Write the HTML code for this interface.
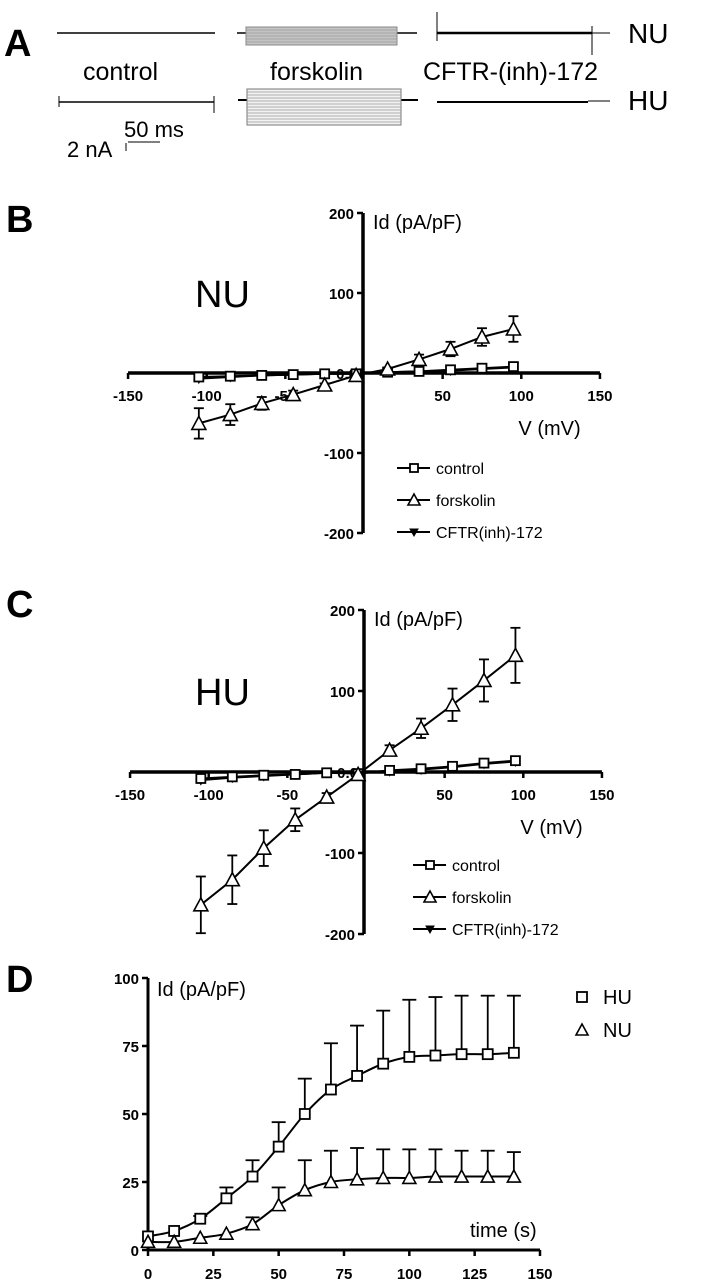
<!DOCTYPE html>
<html><head><meta charset="utf-8"><style>
html,body{margin:0;padding:0;background:#fff;}
svg{display:block;font-family:"Liberation Sans",Arial,sans-serif;}
.tick{font-size:15px;font-weight:bold;}
.lab{font-size:20px;}
.panel{font-size:38px;font-weight:bold;}
</style></head><body>
<svg id="fig" width="706" height="1285" viewBox="0 0 706 1285">
<g stroke="#000" fill="none">
  <line x1="57" y1="33" x2="215" y2="33" stroke-width="1.5"/>
  <line x1="237" y1="33" x2="417" y2="33" stroke-width="1.5"/>
  <rect x="246" y="27" width="151" height="18" fill="#c4c4c4" stroke="#888" stroke-width="1"/>
  <line x1="437" y1="33" x2="592" y2="33" stroke-width="2.5"/>
  <line x1="592" y1="33" x2="610" y2="33" stroke-width="1"/>
  <line x1="437" y1="12" x2="437" y2="41" stroke-width="1"/>
  <line x1="592" y1="26" x2="592" y2="55" stroke-width="1"/>
  <line x1="59" y1="102" x2="214" y2="102" stroke-width="1.5"/>
  <line x1="59" y1="96" x2="59" y2="107" stroke-width="1"/>
  <line x1="214" y1="96" x2="214" y2="113" stroke-width="1"/>
  <line x1="238" y1="100" x2="418" y2="100" stroke-width="2"/>
  <rect x="247" y="89" width="154" height="36" fill="#f2f2f2" stroke="#777" stroke-width="1"/>
  <g id="stripes" stroke="#999" stroke-width="0.8"></g>
  <line x1="437" y1="102" x2="588" y2="102" stroke-width="2"/>
  <line x1="588" y1="101" x2="610" y2="101" stroke-width="1"/>
  <line x1="126" y1="143" x2="126" y2="151" stroke-width="1"/>
  <line x1="128" y1="142" x2="160" y2="142" stroke-width="1"/>
</g>
<text x="4" y="56" class="panel">A</text>
<text x="628" y="43" font-size="28">NU</text>
<text x="628" y="110" font-size="28">HU</text>
<text x="83" y="80" font-size="25">control</text>
<text x="270" y="80" font-size="25">forskolin</text>
<text x="423" y="80" font-size="25">CFTR-(inh)-172</text>
<text x="67" y="157" font-size="22">2 nA</text>
<text x="124" y="137" font-size="22">50 ms</text>

<text x="6" y="232" class="panel">B</text>
<text x="6" y="617" class="panel">C</text>
<text x="6" y="992" class="panel">D</text>
<g id="gB"></g>
<g id="gC"></g>
<g id="gD"></g>
</svg>
<script>
const NS="http://www.w3.org/2000/svg";
const voltages=[-105,-85,-65,-45,-25,-5,15,35,55,75,95];
const nuControl=[-5,-4,-3,-2,-1,-1,1,2,4,6,8];
const nuForskolin=[-63,-52,-38,-27,-15,-3,5,17,30,45,55];
const nuForskolinErr=[19,13,8,5,2,1,2,6,9,11,16];
const nuCftr=[-7,-5,-3,-2,-1,-1,1,2,3,5,7];
const huControl=[-8,-6,-4,-3,-1,-2,2,4,7,11,14];
const huForskolin=[-164,-133,-94,-59,-31,-3,27,54,83,113,144];
const huForskolinErr=[35,30,22,14,5,2,6,12,20,26,34];
const huCftr=[-10,-7,-5,-3,-1,-1,1,3,6,10,13];
const ivXTicks=[-150,-100,-50,50,100,150];
const ivYTicks=[200,100,-100,-200];
const times=[0,10,20,30,40,50,60,70,80,90,100,110,120,130,140];
const huTime=[5,7,11.5,19,27,38,50,59,64,68.5,71,71.5,72,72,72.5];
const huTimeUpper=[5,7,12.5,23,33,47,63,76,82.5,88,92,93,93.5,93.5,93.5];
const nuTime=[3,3,4.5,6,9.5,16.5,22,25,26,26.5,26.5,27,27,27,27];
const nuTimeUpper=[3,3,4.5,6,12,23,33,36.5,37.5,37,37,37,36.5,36.5,36];
const dXTicks=[0,25,50,75,100,125,150];
const dYTicks=[0,25,50,75,100];

function el(tag,attrs,parent){const e=document.createElementNS(NS,tag);for(const k in attrs)e.setAttribute(k,attrs[k]);parent.appendChild(e);return e;}
const st=document.getElementById('stripes');
for(let y=92;y<124;y+=3){el('line',{x1:247,y1:y,x2:401,y2:y},st);}
for(let y=30;y<45;y+=3){el('line',{x1:246,y1:y,x2:397,y2:y},st);}

function marker(g,type,x,y,s){
  let m;
  if(type==='sq') m=el('rect',{x:x-s,y:y-s,width:2*s,height:2*s,fill:'#fff',stroke:'#000','stroke-width':1.8},g);
  else if(type==='tri') m=el('polygon',{points:`${x},${y-s-1} ${x-s-1},${y+s} ${x+s+1},${y+s}`,fill:'#fff',stroke:'#000','stroke-width':1.6},g);
  else m=el('polygon',{points:`${x},${y+s} ${x-s},${y-s+1} ${x+s},${y-s+1}`,fill:'#000',stroke:'#000','stroke-width':1},g);
  return m;
}
function polyline(g,pts){return el('polyline',{points:pts.map(p=>p.join(',')).join(' '),fill:'none',stroke:'#000','stroke-width':2},g);}

function ivChart(g,cfg){
  const X=v=>cfg.x0+v*cfg.sx, Y=v=>cfg.y0-v*cfg.sy;
  const ax=el('line',{x1:X(-150),y1:cfg.y0,x2:X(150),y2:cfg.y0,stroke:'#000','stroke-width':3.5},g);
  
  const ay=el('line',{x1:cfg.yax,y1:Y(200),x2:cfg.yax,y2:Y(-200),stroke:'#000','stroke-width':3.5},g);
  
  ivXTicks.forEach(t=>{
    el('line',{x1:X(t),y1:cfg.y0,x2:X(t),y2:cfg.y0+6,stroke:'#000','stroke-width':2.5},g);
    const tx=el('text',{x:X(t),y:cfg.y0+28,'text-anchor':'middle',class:'tick'},g);tx.textContent=t;
    
  });
  ivYTicks.forEach(t=>{
    el('line',{x1:cfg.yax-6,y1:Y(t),x2:cfg.yax,y2:Y(t),stroke:'#000','stroke-width':2.5},g);
    const tx=el('text',{x:cfg.yax-9,y:Y(t)+6,'text-anchor':'end',class:'tick'},g);tx.textContent=t;
    
  });
  const z=el('text',{x:cfg.yax-6,y:cfg.y0+6,'text-anchor':'end',class:'tick'},g);z.textContent='0.0';
  
  const yl=el('text',{x:cfg.yax+10,y:Y(200)+16,class:'lab'},g);yl.textContent='Id (pA/pF)';
  
  const xl=el('text',{x:X(95)+5,y:cfg.y0+62,class:'lab'},g);xl.textContent='V (mV)';
  
  const tl=el('text',{x:cfg.titleX,y:Y(100)+14,'font-size':38},g);tl.textContent=cfg.title;
  
  const series=[[cfg.cftr,'inv','cftr'],[cfg.control,'sq','control'],[cfg.forsk,'tri','forskolin']];
  series.forEach(([vals,type,name])=>{
    const sg=el('g',{},g);
    
    polyline(sg,voltages.map((v,i)=>[X(v),Y(vals[i])]));
    if(name==='forskolin'){
      voltages.forEach((v,i)=>{
        const e=cfg.forskErr[i];
        el('line',{x1:X(v),y1:Y(vals[i]+e),x2:X(v),y2:Y(vals[i]-e),stroke:'#000','stroke-width':1.8},sg);
        el('line',{x1:X(v)-5,y1:Y(vals[i]+e),x2:X(v)+5,y2:Y(vals[i]+e),stroke:'#000','stroke-width':1.8},sg);
        el('line',{x1:X(v)-5,y1:Y(vals[i]-e),x2:X(v)+5,y2:Y(vals[i]-e),stroke:'#000','stroke-width':1.8},sg);
      });
    }
    voltages.forEach((v,i)=>{const m=marker(sg,type,X(v),Y(vals[i]),type==='tri'?6:4.5);
      });
  });
  const names=['control','forskolin','CFTR(inh)-172'],types=['sq','tri','inv'];
  names.forEach((n,i)=>{
    const lg=el('g',{},g);
    
    const ly=cfg.legY+i*cfg.legDy;
    el('line',{x1:cfg.legX,y1:ly,x2:cfg.legX+33,y2:ly,stroke:'#000','stroke-width':2},lg);
    marker(lg,types[i],cfg.legX+17,ly,types[i]==='tri'?5:4);
    const t=el('text',{x:cfg.legX+39,y:ly+6,'font-size':16},lg);t.textContent=n;
  });
}
ivChart(document.getElementById('gB'),{x0:364,sx:1.573,y0:373,sy:0.8,yax:363,title:'NU',titleX:195,
  control:nuControl,forsk:nuForskolin,forskErr:nuForskolinErr,cftr:nuCftr,legX:397,legY:468,legDy:32});
ivChart(document.getElementById('gC'),{x0:366,sx:1.573,y0:772,sy:0.81,yax:364,title:'HU',titleX:195,
  control:huControl,forsk:huForskolin,forskErr:huForskolinErr,cftr:huCftr,legX:413,legY:865,legDy:32});

(function(){
  const g=document.getElementById('gD');
  const X=v=>148+v*(392/150), Y=v=>1250-v*2.72;
  const ax=el('line',{x1:X(0),y1:Y(0),x2:X(150),y2:Y(0),stroke:'#000','stroke-width':3},g);
  
  const ay=el('line',{x1:X(0),y1:Y(0),x2:X(0),y2:Y(100),stroke:'#000','stroke-width':3},g);
  
  dXTicks.forEach(t=>{
    el('line',{x1:X(t),y1:Y(0),x2:X(t),y2:Y(0)+6,stroke:'#000','stroke-width':2.5},g);
    const tx=el('text',{x:X(t),y:Y(0)+29,'text-anchor':'middle',class:'tick'},g);tx.textContent=t;
    
  });
  dYTicks.forEach(t=>{
    el('line',{x1:X(0)-6,y1:Y(t),x2:X(0),y2:Y(t),stroke:'#000','stroke-width':2.5},g);
    const tx=el('text',{x:X(0)-9,y:Y(t)+6,'text-anchor':'end',class:'tick'},g);tx.textContent=t;
    
  });
  const yl=el('text',{x:X(0)+9,y:Y(100)+18,class:'lab'},g);yl.textContent='Id (pA/pF)';
  
  const xl=el('text',{x:470,y:1237,class:'lab'},g);xl.textContent='time (s)';
  
  function smooth(pts){
    let d=`M${pts[0][0]},${pts[0][1]}`;
    for(let i=0;i<pts.length-1;i++){
      const p0=pts[Math.max(0,i-1)],p1=pts[i],p2=pts[i+1],p3=pts[Math.min(pts.length-1,i+2)];
      d+=` C${p1[0]+(p2[0]-p0[0])/6},${p1[1]+(p2[1]-p0[1])/6} ${p2[0]-(p3[0]-p1[0])/6},${p2[1]-(p3[1]-p1[1])/6} ${p2[0]},${p2[1]}`;
    }
    return d;
  }
  [[huTime,huTimeUpper,'sq','hu'],[nuTime,nuTimeUpper,'tri','nu']].forEach(([vals,up,type,name])=>{
    const sg=el('g',{},g);
    
    el('path',{d:smooth(times.map((t,i)=>[X(t),Y(vals[i])])),fill:'none',stroke:'#000','stroke-width':2},sg);
    times.forEach((t,i)=>{
      if(up[i]>vals[i]+0.5){
        el('line',{x1:X(t),y1:Y(vals[i]),x2:X(t),y2:Y(up[i]),stroke:'#000','stroke-width':1.8},sg);
        el('line',{x1:X(t)-7,y1:Y(up[i]),x2:X(t)+7,y2:Y(up[i]),stroke:'#000','stroke-width':1.8},sg);
      }
    });
    times.forEach((t,i)=>{const m=marker(sg,type,X(t),Y(vals[i]),type==='tri'?5.5:5);
      });
  });
  [['HU','sq',997],['NU','tri',1030]].forEach(([n,type,y])=>{
    const lg=el('g',{},g);
    
    marker(lg,type,582,y,5);
    const t=el('text',{x:603,y:y+7,'font-size':20},lg);t.textContent=n;
  });
})();
</script>
</body></html>
